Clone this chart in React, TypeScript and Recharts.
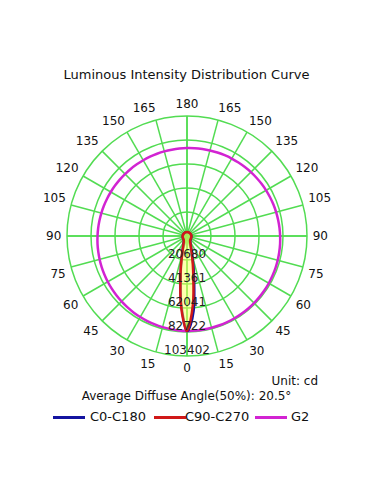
import React from "react";
import { RadarChart, Radar, PolarGrid, PolarAngleAxis, PolarRadiusAxis } from "recharts";

// gamma angle, clockwise from the bottom (0 = straight down)
const gammaAngles = [
  0, 5, 10, 15, 20, 25, 30, 35, 40, 45, 50, 55, 60, 65, 70, 75, 80, 85,
  90, 95, 100, 105, 110, 115, 120, 125, 130, 135, 140, 145, 150, 155, 160, 165, 170, 175,
  180, 185, 190, 195, 200, 205, 210, 215, 220, 225, 230, 235, 240, 245, 250, 255, 260, 265,
  270, 275, 280, 285, 290, 295, 300, 305, 310, 315, 320, 325, 330, 335, 340, 345, 350, 355,
];

const c0c180 = [
  81800, 58000, 31000, 16000, 9800, 6900, 5500, 4800, 4400, 4200, 4100, 4000, 3900, 3900, 3800, 3800, 3700, 3700,
  3600, 3600, 3500, 3500, 3500, 3400, 3400, 3400, 3400, 3300, 3300, 3300, 3300, 3300, 3300, 3300, 3300, 3300,
  3300, 3300, 3300, 3300, 3300, 3300, 3300, 3300, 3400, 3400, 3400, 3400, 3500, 3500, 3500, 3600, 3600, 3600,
  3700, 3700, 3800, 3800, 3900, 3900, 4000, 4100, 4200, 4400, 4700, 4900, 5600, 7100, 10200, 17500, 35000, 65000,
];

const c90c270 = [
  81800, 60000, 32000, 16500, 10000, 7000, 5600, 4800, 4400, 4200, 4100, 4000, 3900, 3900, 3800, 3800, 3800, 3800,
  3800, 3700, 3700, 3600, 3600, 3500, 3500, 3500, 3400, 3400, 3400, 3400, 3400, 3400, 3400, 3400, 3400, 3400,
  3400, 3400, 3400, 3400, 3400, 3400, 3400, 3400, 3400, 3500, 3500, 3500, 3600, 3600, 3700, 3700, 3800, 3800,
  3800, 3800, 3800, 3800, 3800, 3900, 3900, 4000, 4100, 4200, 4400, 4700, 5400, 6900, 9700, 16000, 30500, 59000,
];

const g2 = [
  81850, 81700, 81500, 81300, 81100, 80850, 80600, 80350, 80050, 79750, 79450, 79150, 78850, 78550, 78250, 77950, 77650, 77400,
  77100, 76850, 76600, 76400, 76200, 76000, 75850, 75700, 75600, 75500, 75450, 75400, 75400, 75400, 75450, 75500, 75550, 75700,
  75850, 76000, 76150, 76350, 76550, 76800, 77050, 77300, 77550, 77850, 78100, 78400, 78700, 78950, 79250, 79500, 79750, 80000,
  80250, 80500, 80700, 80900, 81100, 81250, 81400, 81500, 81600, 81700, 81750, 81800, 81850, 81850, 81850, 81850, 81850, 81850,
];

const ringValues = [20680, 41361, 62041, 82722, 103402];
const maxIntensity = 103402;

const data = gammaAngles.map((g, i) => ({
  gamma: g,
  c0: c0c180[i],
  c90: c90c270[i],
  g2: g2[i],
}));

const CX = 187;
const CY = 236;
const R = 120;
const GRID = "#52dc52";
const FONT = "'DejaVu Sans', Verdana, sans-serif";

// chart angle of a gamma value (clockwise from bottom)
const toChartAngle = (g: number) => -90 - g;
const spokes = gammaAngles.filter((g) => g % 15 === 0).map(toChartAngle);

function smoothPath(pts: { x: number; y: number }[]) {
  const n = pts.length;
  if (!n) return "";
  let d = `M${pts[0].x},${pts[0].y}`;
  for (let i = 0; i < n; i++) {
    const p0 = pts[(i - 1 + n) % n];
    const p1 = pts[i];
    const p2 = pts[(i + 1) % n];
    const p3 = pts[(i + 2) % n];
    const c1x = p1.x + (p2.x - p0.x) / 6;
    const c1y = p1.y + (p2.y - p0.y) / 6;
    const c2x = p2.x - (p3.x - p1.x) / 6;
    const c2y = p2.y - (p3.y - p1.y) / 6;
    d += ` C${c1x},${c1y} ${c2x},${c2y} ${p2.x},${p2.y}`;
  }
  return d + " Z";
}

const smoothShape = (stroke: string, fill: string, fillOpacity: number) => (props: any) => (
  <path
    d={smoothPath(props.points || [])}
    stroke={stroke}
    strokeWidth={2.5}
    fill={fill}
    fillOpacity={fillOpacity}
    strokeLinejoin="round"
  />
);

// labels sit just outside the rim, pushed away from it like a corner-anchored text
const AngleTick = (props: any) => {
  const g = props.payload.value;
  if (g % 15 !== 0) return null;
  const label = g <= 180 ? g : 360 - g;
  const a = (props.payload.coordinate * Math.PI) / 180;
  const cos = Math.cos(a);
  const sin = Math.sin(a);
  const w = String(label).length * 7.3;
  const side = Math.abs(cos) < 0.01 ? 0 : Math.sign(cos);
  const vert = Math.abs(sin) < 0.01 ? 0 : -Math.sign(sin);
  const x = CX + 127 * cos + side * (w / 2 - 1);
  const y = CY - 127 * sin + vert * 5;
  return (
    <text x={x} y={y} textAnchor="middle" dominantBaseline="central" fontSize={12} fill="#111" fontFamily={FONT}>
      {label}
    </text>
  );
};

const RadiusTick = (props: any) => (
  <text x={CX} y={props.y - 6} textAnchor="middle" dominantBaseline="central" fontSize={12} fill="#222" fontFamily={FONT}>
    {props.payload.value}
  </text>
);

const legendItems = [
  { name: "C0-C180", color: "#1414a0", line: 53, text: 90 },
  { name: "C90-C270", color: "#d01818", line: 154, text: 185 },
  { name: "G2", color: "#d223d2", line: 255, text: 291 },
];

export default function App() {
  return (
    <div style={{ position: "absolute", left: 0, top: 0, width: 381, height: 492, background: "#fff", fontFamily: FONT, color: "#111" }}>
      <div style={{ position: "absolute", top: 67, left: 0, width: 373, textAlign: "center", fontSize: 13, lineHeight: "16px" }}>
        Luminous Intensity Distribution Curve
      </div>
      <RadarChart width={381} height={492} data={data} cx={CX} cy={CY} outerRadius={R} startAngle={-90} endAngle={-450}
        margin={{ top: 0, right: 0, bottom: 0, left: 0 }} style={{ position: "absolute", left: 0, top: 0 }}>
        <PolarGrid gridType="circle" stroke={GRID} strokeWidth={1.5} innerRadius={24} polarRadius={[24, 48, 72, 96, 120]} polarAngles={spokes} />
        <PolarGrid gridType="circle" stroke={GRID} strokeWidth={1.5} innerRadius={0} polarRadius={[]} polarAngles={[-90, 0, 90, 180]} />
        <PolarAngleAxis dataKey="gamma" tick={<AngleTick />} tickLine={false} axisLine={false} />
        <Radar dataKey="g2" isAnimationActive={false} dot={false} shape={smoothShape("#d223d2", "none", 0)} />
        <Radar dataKey="c0" isAnimationActive={false} dot={false} shape={smoothShape("#1414a0", "none", 0)} />
        <Radar dataKey="c90" isAnimationActive={false} dot={false} shape={smoothShape("#d01818", "#ffff60", 0.5)} />
        <PolarRadiusAxis angle={-90} type="number" domain={[0, maxIntensity]} ticks={ringValues} tick={<RadiusTick />}
          tickLine={false} axisLine={false} />
      </RadarChart>
      <div style={{ position: "absolute", top: 373, right: 63, fontSize: 12, lineHeight: "16px" }}>Unit: cd</div>
      <div style={{ position: "absolute", top: 388, left: 0, width: 373, textAlign: "center", fontSize: 12, lineHeight: "16px" }}>
        Average Diffuse Angle(50%): 20.5°
      </div>
      {legendItems.map((it) => (
        <React.Fragment key={it.name}>
          <div style={{ position: "absolute", top: 416, left: it.line, width: 32, height: 3, background: it.color }} />
          <div style={{ position: "absolute", top: 409, left: it.text, fontSize: 13, lineHeight: "16px" }}>{it.name}</div>
        </React.Fragment>
      ))}
    </div>
  );
}
